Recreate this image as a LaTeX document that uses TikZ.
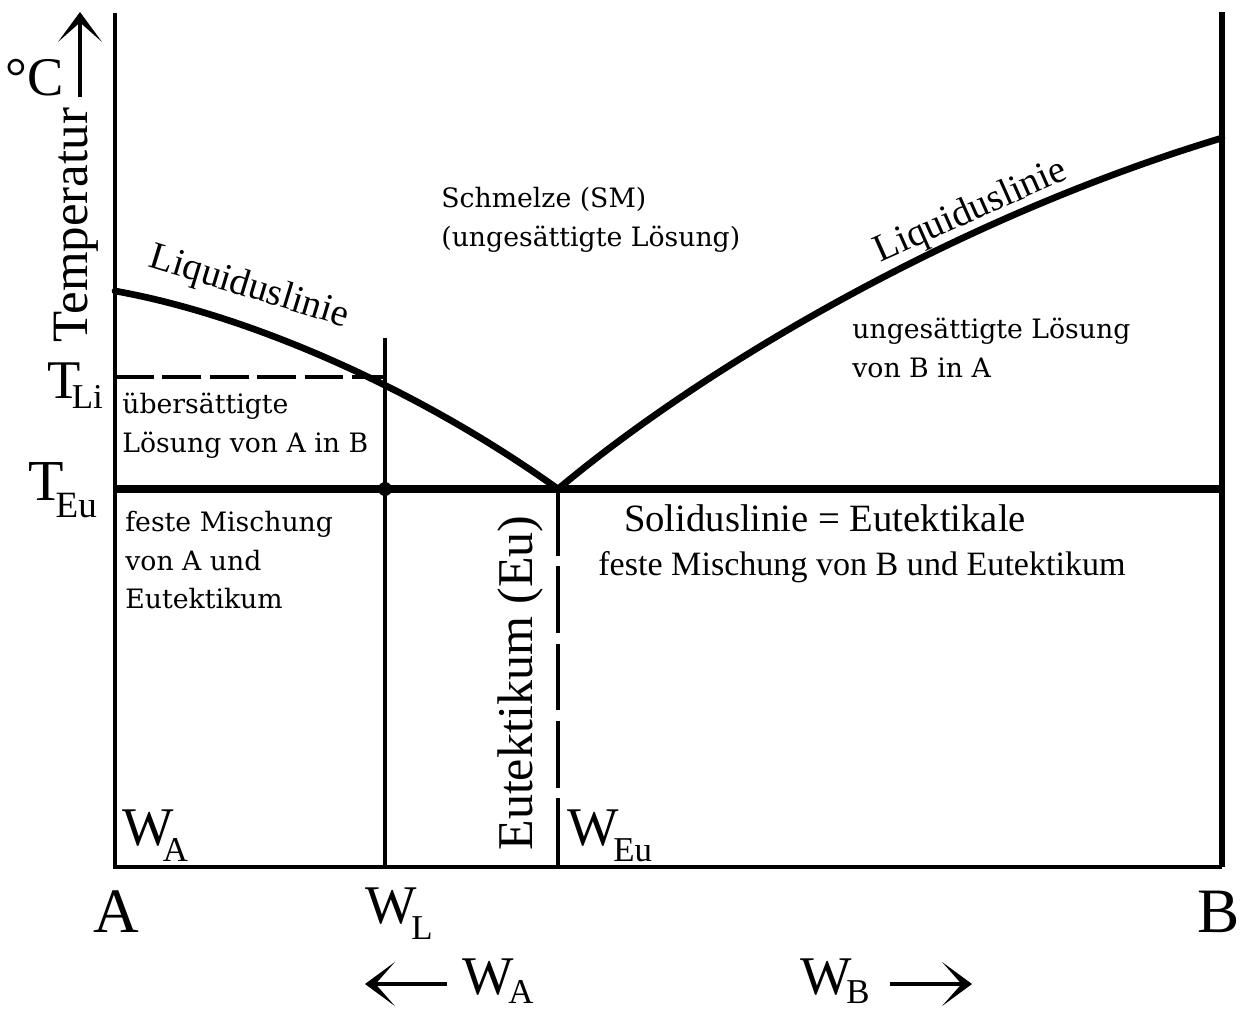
\documentclass[tikz,border=0pt]{standalone}
\usepackage{fontspec}
\setmainfont{Liberation Serif}
\newfontfamily\labelfont{DejaVu Serif}
\usepackage{graphicx}
\usetikzlibrary{arrows.meta}

\newcommand{\lowidx}[3][-0.3em]{\kern#2\raisebox{#1}{\scalebox{0.64}{#3}}}

\begin{document}
\begin{tikzpicture}[x=0.02cm, y=-0.02cm,
  axis/.style={line width=2.7pt},
  thickline/.style={line width=4.2pt},
  liqline/.style={line width=3.8pt, line cap=round},
  big/.style={font=\fontsize{31}{31}\selectfont, inner sep=0pt},
  mid/.style={font=\fontsize{22}{22}\selectfont, inner sep=0pt},
  region/.style={font=\labelfont\fontsize{15.2}{22}\selectfont, align=left, anchor=north west, inner sep=0pt},
  bigarrow/.style={-{Stealth[length=17pt, width=25pt, inset=11pt]}, line width=2.3pt}
]
  \useasboundingbox (0,0) rectangle (1246,1011);

  % Frame
  \coordinate (topA) at (115,13);
  \coordinate (botA) at (115,867);
  \coordinate (topB) at (1222,12);
  \coordinate (botB) at (1222,867);
  \draw[axis] (topA) -- (botA) -- (botB);
  \draw[line width=3.2pt] (botB) -- (topB);

  % Eutectic and liquidus
  \coordinate (liqA) at (115,291);
  \coordinate (eu) at (558,489);
  \coordinate (liqB) at (1222,138);
  \coordinate (teuA) at (115,489);
  \coordinate (teuB) at (1222,489);
  \draw[thickline] (teuA) -- (teuB);
  \draw[liqline] (liqA) .. controls (250,315) and (420,390) .. (eu);
  \draw[liqline] (eu) .. controls (700,370) and (950,220) .. (liqB);

  % Alloy W_L
  \coordinate (wlTop) at (385,338);
  \coordinate (wlBot) at (385,867);
  \coordinate (wlEu) at (385,489);
  \coordinate (tliA) at (115,377);
  \coordinate (tliL) at (385,377);
  \draw[axis] (wlTop) -- (wlBot);
  \fill (wlEu) circle (7);
  \draw[line width=2.4pt, dash pattern=on 22pt off 5pt] (tliA) -- (tliL);

  % Eutectic composition
  \coordinate (euBot) at (558,867);
  \draw[axis, dash pattern=on 38pt off 6pt] (eu) -- (euBot);

  % Axis labels
  \node[big] (degc) at (35,78) {°C};
  \coordinate (tarrBot) at (80,97);
  \coordinate (tarrTop) at (80,12);
  \draw[bigarrow] (tarrBot) -- (tarrTop);
  \node[font=\fontsize{29}{29}\selectfont, rotate=90, inner sep=0pt] (temp) at (76,225) {Temperatur};
  \node[big, anchor=base west] (tli) at (47,398) {T\lowidx[-0.19em]{-0.16em}{Li}};
  \node[font=\fontsize{33}{33}\selectfont, inner sep=0pt, anchor=base west] (teu) at (28,500) {T\lowidx{-0.14em}{Eu}};
  \node[font=\fontsize{36}{36}\selectfont, inner sep=0pt] (labA) at (116,912) {A};
  \node[font=\fontsize{36}{36}\selectfont, inner sep=0pt] (labB) at (1219,912) {B};
  \node[big, anchor=base west] (wl) at (365,923) {W\lowidx{-0.1em}{L}};
  \node[big, anchor=base west] (wa) at (122,845) {W\lowidx{-0.2em}{A}};
  \node[big, anchor=base west] (weu) at (567,845) {W\lowidx{-0.1em}{Eu}};
  \node[font=\fontsize{28.5}{28.5}\selectfont, rotate=90, inner sep=0pt] (eutk) at (520,683) {Eutektikum (Eu)};

  % Bottom arrows
  \node[big, anchor=base west] (waB) at (462,994) {W\lowidx[-0.17em]{-0.1em}{A}};
  \coordinate (laTail) at (447,984);
  \coordinate (laTip) at (365,984);
  \draw[bigarrow] (laTail) -- (laTip);
  \node[big, anchor=base west] (wbB) at (800,994) {W\lowidx[-0.17em]{-0.1em}{B}};
  \coordinate (raTail) at (890,984);
  \coordinate (raTip) at (972,984);
  \draw[bigarrow] (raTail) -- (raTip);

  % Line labels
  \node[mid, rotate=-17] (liqlabA) at (249,288) {Liquiduslinie};
  \node[mid, rotate=24] (liqlabB) at (971,212) {Liquiduslinie};
  \node[font=\fontsize{22}{22}\selectfont, inner sep=0pt] (sol) at (825,518) {Soliduslinie = Eutektikale};
  \node[font=\fontsize{19.4}{19.4}\selectfont, inner sep=0pt] (mixB) at (862,567) {feste Mischung von B und Eutektikum};

  % Regions
  \node[region] (melt) at (441,187) {Schmelze (SM)\\(ungesättigte Lösung)};
  \node[region] (unsat) at (852,318) {ungesättigte Lösung\\von B in A};
  \node[region] (supsat) at (122,393) {übersättigte\\Lösung von A in B};
  \node[region] (mixA) at (125,511) {feste Mischung\\von A und\\Eutektikum};
\end{tikzpicture}
\end{document}
